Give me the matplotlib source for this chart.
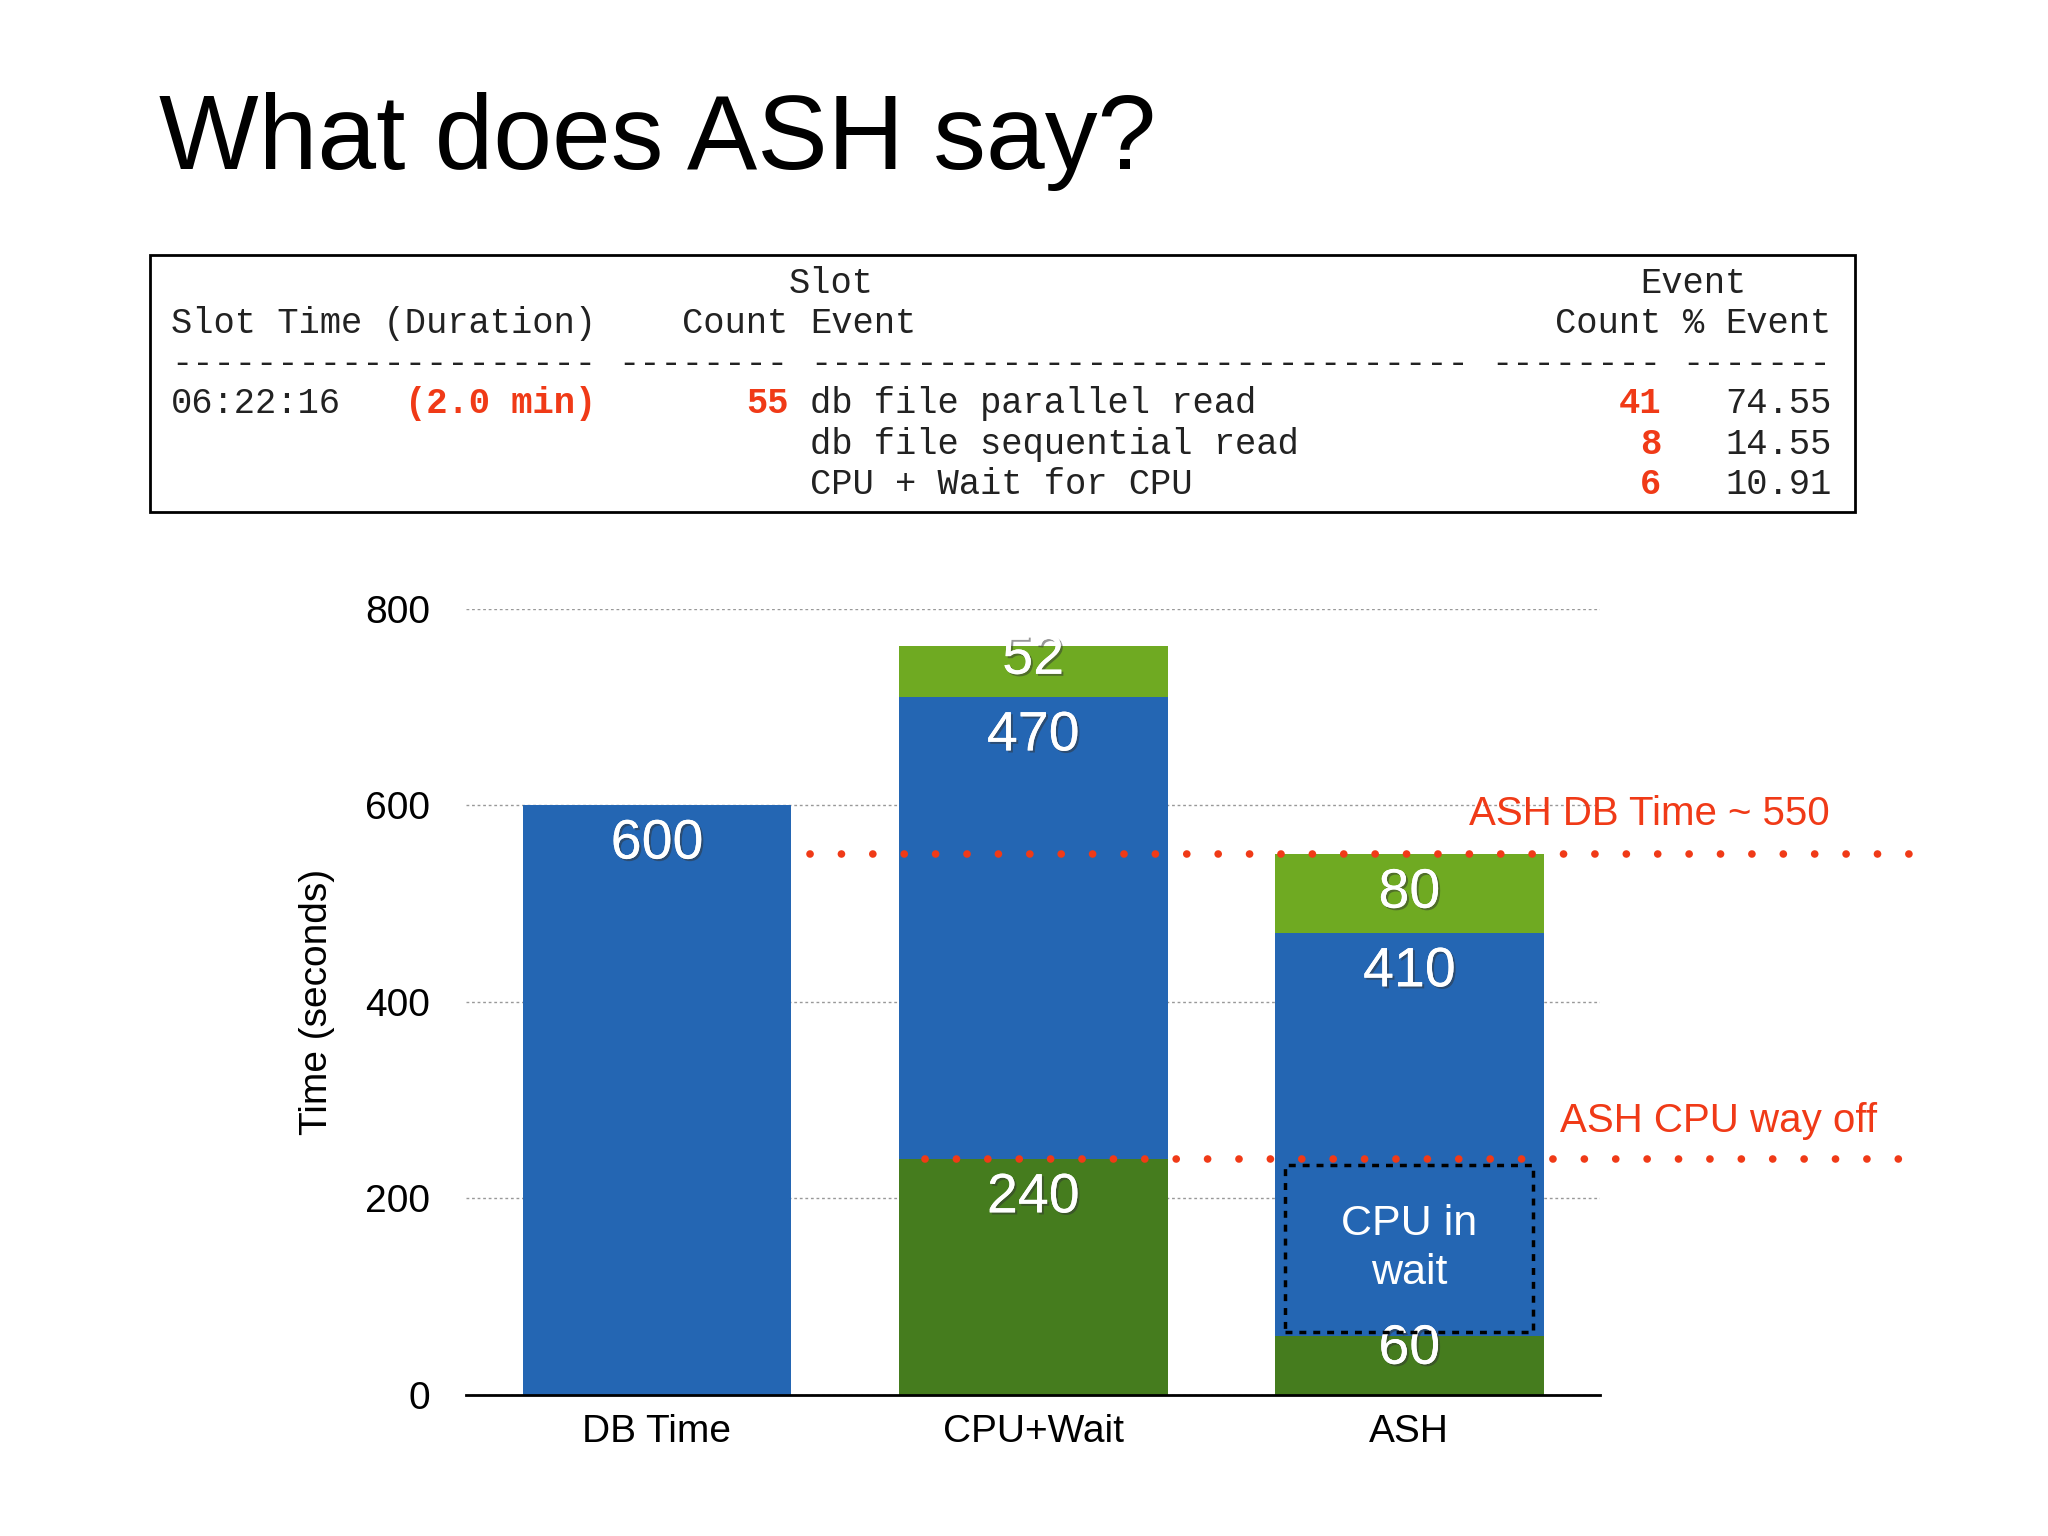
import matplotlib
matplotlib.use("Agg")
import matplotlib.pyplot as plt
from matplotlib.patches import Rectangle
import matplotlib.patheffects as pe

# --- data ---
categories = ["DB Time", "CPU+Wait", "ASH"]
dark_green = [0, 240, 60]
blue = [600, 470, 410]
light_green = [0, 52, 80]
yticks = [0, 200, 400, 600, 800]
ash_db_time = 550
ash_cpu = 240
cpu_in_wait = (64, 234)

# table rows: list of (column, text, is_red)
table_rows = [
    [(29, "Slot", False), (69, "Event", False)],
    [(0, "Slot Time (Duration)", False), (24, "Count", False), (30, "Event", False),
     (65, "Count", False), (71, "%", False), (73, "Event", False)],
    [(0, "-" * 20, False), (21, "-" * 8, False), (30, "-" * 31, False),
     (62, "-" * 8, False), (71, "-" * 7, False)],
    [(0, "06:22:16", False), (11, "(2.0 min)", True), (27, "55", True),
     (30, "db file parallel read", False), (68, "41", True), (73, "74.55", False)],
    [(30, "db file sequential read", False), (69, "8", True), (73, "14.55", False)],
    [(30, "CPU + Wait for CPU", False), (69, "6", True), (73, "10.91", False)],
]

BLUE = "#2466B3"
DGREEN = "#457C1E"
LGREEN = "#6FAA22"
RED = "#F03A17"
W, H = 1568, 1176  # reference layout coords
SANS = ["Liberation Sans", "DejaVu Sans"]

fig = plt.figure(figsize=(20.48, 15.36), dpi=100)
fig.patch.set_facecolor("white")

fig.text(122 / W, 1 - 108 / H, "What does ASH say?", fontsize=76, family=SANS,
         va="center", ha="left")

# table box
fig.add_artist(Rectangle((115 / W, 1 - 392 / H), (1420 - 115) / W, (392 - 195) / H,
                         transform=fig.transFigure, fill=False, ec="black", lw=2))

char_w = 16.3
line_y = [217, 248, 278, 309, 340, 371]
for row, ly in zip(table_rows, line_y):
    for col, txt, red in row:
        fig.text((131 + col * char_w) / W, 1 - ly / H, txt, family="Liberation Mono",
                 fontsize=25.6, color=RED if red else "#222222",
                 fontweight="bold" if red else "normal", va="center", ha="left")

# chart
ax = fig.add_axes([357 / W, 1 - 1068 / H, (1225 - 357) / W, (1068 - 466) / H])
x = range(len(categories))
bw = 0.715
ax.bar(x, dark_green, bw, color=DGREEN)
ax.bar(x, blue, bw, bottom=dark_green, color=BLUE)
bott = [a + b for a, b in zip(dark_green, blue)]
ax.bar(x, light_green, bw, bottom=bott, color=LGREEN)

shadow = [pe.withSimplePatchShadow(offset=(1.5, -1.5), shadow_rgbFace="#333333", alpha=0.5), pe.Normal()]
lbl = dict(color="white", fontsize=40, ha="center", va="center", family=SANS,
           path_effects=shadow)
for i in x:
    segs = [(0, dark_green[i]), (dark_green[i], blue[i]), (bott[i], light_green[i])]
    for k, (b, h) in enumerate(segs):
        if h == 0:
            continue
        y = b + h - 40 if h > 70 else b + h - 14
        ax.text(i, y, str(h), **lbl)
ax.text(2, sum(cpu_in_wait) / 2, "CPU in\nwait", color="white", fontsize=31,
        ha="center", va="center", linespacing=1.3, family=SANS)
ax.add_patch(Rectangle((2 - 0.33, cpu_in_wait[0]), 0.66, cpu_in_wait[1] - cpu_in_wait[0],
                       fill=False, ec="black", ls=(0, (2, 2)), lw=2.5, zorder=4))

dot = dict(color=RED, lw=5.5, ls=(0, (0.01, 4.1)), dash_capstyle="round", clip_on=False, zorder=5)
ax.plot([0.406, 3.33], [ash_db_time] * 2, **dot)
ax.plot([0.712, 3.38], [ash_cpu] * 2, **dot)
ax.text(2.16, 591, "ASH DB Time ~ 550", color=RED, fontsize=29, va="center", ha="left",
        family=SANS)
ax.text(2.40, 279, "ASH CPU way off", color=RED, fontsize=29, va="center", ha="left",
        family=SANS)

ax.set_xlim(-0.507, 2.507)
ax.set_ylim(0, 800)
ax.set_yticks(yticks)
ax.set_xticks(list(x))
ax.set_xticklabels(categories, family=SANS)
ax.set_yticklabels([str(v) for v in yticks], family=SANS)
ax.tick_params(length=0, labelsize=28, pad=14)
ax.tick_params(axis="y", pad=26)
ax.set_ylabel("Time (seconds)", fontsize=28, labelpad=22, family=SANS)
for s in ["top", "right", "left"]:
    ax.spines[s].set_visible(False)
ax.spines["bottom"].set_linewidth(2)
ax.yaxis.grid(True, ls=(0, (2, 2)), color="#999999", lw=1)
ax.set_axisbelow(True)

fig.savefig("out.png", dpi=100)
